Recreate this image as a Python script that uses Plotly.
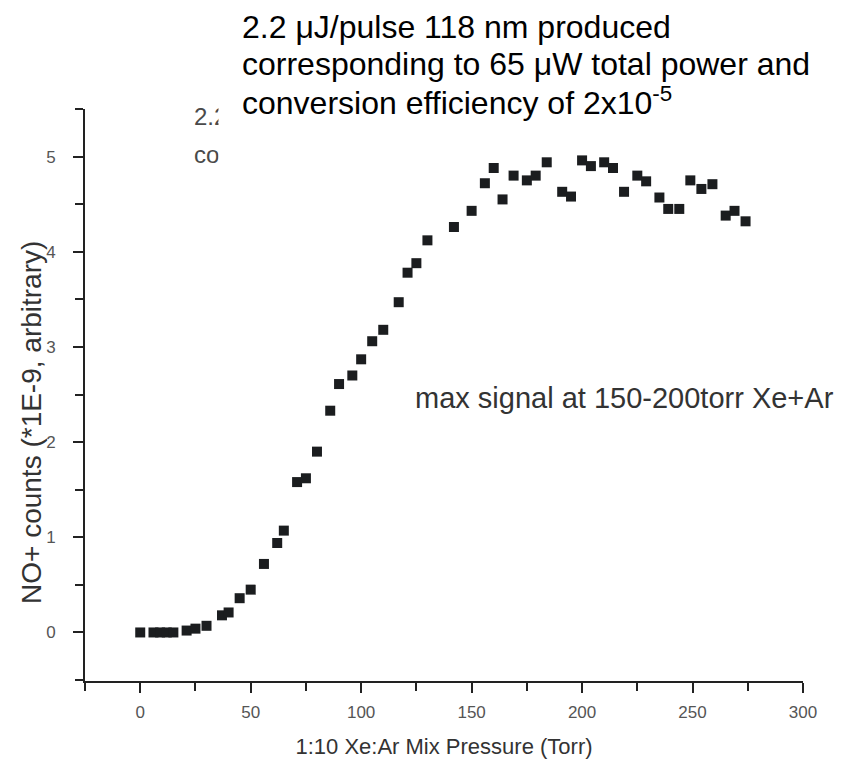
import plotly.graph_objects as go

# Data
pressure = [0, 6, 9, 12, 15, 21, 25, 30, 37, 40, 45, 50, 56, 62, 65, 71, 75, 80,
            86, 90, 96, 100, 105, 110, 117, 121, 125, 130, 142, 150, 156, 160,
            164, 169, 175, 179, 184, 191, 195, 200, 204, 210, 214, 219, 225, 229,
            235, 239, 244, 249, 254, 259, 265, 269, 274]
counts = [0, 0, 0, 0, 0, 0.02, 0.04, 0.07, 0.18, 0.21, 0.36, 0.45, 0.72, 0.94,
          1.07, 1.58, 1.62, 1.90, 2.33, 2.61, 2.70, 2.87, 3.06, 3.18, 3.47, 3.78,
          3.88, 4.12, 4.26, 4.43, 4.72, 4.88, 4.55, 4.80, 4.75, 4.80, 4.94, 4.63,
          4.58, 4.96, 4.90, 4.94, 4.88, 4.63, 4.80, 4.74, 4.57, 4.45, 4.45, 4.75,
          4.66, 4.71, 4.38, 4.43, 4.32]

x_title = "1:10 Xe:Ar Mix Pressure (Torr)"
y_title = "NO+ counts (*1E-9, arbitrary)"
note = "max signal at 150-200torr Xe+Ar"
big_lines = ["2.2 \u03bcJ/pulse 118 nm produced",
             "corresponding to 65 \u03bcW total power and",
             "conversion efficiency of 2x10<sup>-5</sup>"]
gray_lines = ["2.2 \u03bcJ/pulse 118 nm",
              "corresponding to 65 \u03bcW"]

W, H = 843, 774
L, R, T, B = 85, 40, 109, 93
pw, ph = W - L - R, H - T - B

def px(x):
    return (x - L) / pw

def py(y):
    return (H - B - y) / ph

FONT = "Arial, Liberation Sans, sans-serif"

fig = go.Figure()
fig.add_trace(go.Scatter(
    x=pressure, y=counts, mode="markers",
    marker=dict(symbol="square", size=10, color="#1b1d1f", line=dict(width=0)),
    showlegend=False, cliponaxis=False,
))

annotations = []
# faded, partially hidden text underneath
for i, t in enumerate(gray_lines):
    annotations.append(dict(text=t, xref="paper", yref="paper", x=px(192), y=py(117 + 37 * i),
                            xanchor="left", yanchor="middle", showarrow=False,
                            font=dict(family=FONT, size=24, color="#4a4a4a")))
# white cover box
annotations.append(dict(text=" ", xref="paper", yref="paper", x=px(218), y=py(0),
                        xanchor="left", yanchor="top", showarrow=False,
                        width=260, height=172, bgcolor="white", borderpad=0,
                        font=dict(size=10)))
for i, t in enumerate(big_lines):
    annotations.append(dict(text=t, xref="paper", yref="paper", x=px(240), y=py(27 + 37 * i),
                            xanchor="left", yanchor="middle", showarrow=False,
                            font=dict(family=FONT, size=32, color="black")))
annotations.append(dict(text=note, xref="paper", yref="paper", x=px(413), y=py(398),
                        xanchor="left", yanchor="middle", showarrow=False,
                        font=dict(family=FONT, size=29, color="#333333")))
# y-axis title
annotations.append(dict(text=y_title, xref="paper", yref="paper", x=px(31), y=py(423),
                        xanchor="center", yanchor="middle", showarrow=False, textangle=-90,
                        font=dict(family=FONT, size=28, color="#333333")))

axis_common = dict(
    showgrid=False, zeroline=False, showline=True, linecolor="#222222", linewidth=2,
    ticks="outside", ticklen=10, tickwidth=2, tickcolor="#222222",
    tickfont=dict(family=FONT, size=17, color="#555555"),
    mirror=False,
)

fig.update_layout(
    width=W, height=H,
    margin=dict(l=L, r=R, t=T, b=B),
    paper_bgcolor="white", plot_bgcolor="white",
    xaxis=dict(range=[-25, 300], dtick=50, tick0=0, ticklabelstandoff=5,
               minor=dict(dtick=25, ticks="outside", ticklen=8, tickwidth=2, tickcolor="#222222"),
               title=dict(text=x_title, font=dict(family=FONT, size=22, color="#333333"), standoff=17),
               **axis_common),
    yaxis=dict(range=[-0.51, 5.5], dtick=1, tick0=0, ticklabelstandoff=14,
               minor=dict(dtick=0.5, ticks="outside", ticklen=8, tickwidth=2, tickcolor="#222222"),
               **axis_common),
    annotations=annotations,
)

fig.write_html("out.html")
